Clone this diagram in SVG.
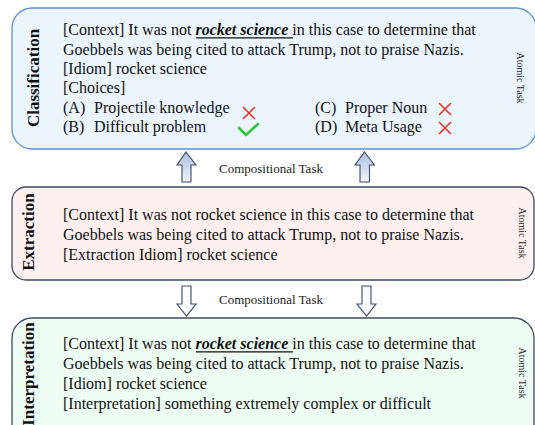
<svg xmlns="http://www.w3.org/2000/svg" width="535" height="425" viewBox="0 0 535 425" font-family="'Liberation Serif', 'Times New Roman', 'DejaVu Serif', serif">
<defs>
<linearGradient id="upg" x1="0" y1="0" x2="0" y2="1">
<stop offset="0" stop-color="#a9bde0"/>
<stop offset="1" stop-color="#f4f7fc"/>
</linearGradient>
<style>
text{font-family:'Liberation Serif','Times New Roman','DejaVu Serif',serif}
.t{font-size:16px;fill:#111}
.bi{font-weight:bold;font-style:italic}
.side{font-size:17px;font-weight:bold;fill:#111}
.at{font-size:10px;fill:#222}
.ct{font-size:13px;fill:#222}
.ul{stroke:#111;stroke-width:1.2}
.x{stroke:#e8332a;stroke-width:1.6;fill:none}
.up{fill:url(#upg);stroke:#3b4a68;stroke-width:1.1}
.dn{fill:#fbfcfe;stroke:#3b4a68;stroke-width:1.1}
</style>
</defs>
<g id="classification">
<rect x="12" y="8" width="524" height="141" rx="20" fill="#ebf5fe" stroke="#5f8fd4" stroke-width="1.3"/>
<text class="side" transform="translate(39,78) rotate(-90)" text-anchor="middle">Classification</text>
<text class="at" transform="translate(517,78) rotate(90)" text-anchor="middle">Atomic Task</text>
<text class="t" x="63" y="35">[Context] It was not <tspan class="bi">rocket science</tspan> in this case to determine that</text>
<line class="ul" x1="196" y1="37.8" x2="293" y2="37.8"/>
<text class="t" x="63" y="55">Goebbels was being cited to attack Trump, not to praise Nazis.</text>
<text class="t" x="63" y="74">[Idiom] rocket science</text>
<text class="t" x="63" y="93">[Choices]</text>
<text class="t" x="63" y="113">(A)</text><text class="t" x="94" y="113">Projectile knowledge</text>
<text class="t" x="63" y="132">(B)</text><text class="t" x="94" y="132">Difficult problem</text>
<text class="t" x="315" y="113">(C)</text><text class="t" x="345" y="113">Proper Noun</text>
<text class="t" x="315" y="132">(D)</text><text class="t" x="345" y="132">Meta Usage</text>
<path class="x" d="M243,107 L255,119 M255,107 L243,119"/>
<path class="x" d="M439,103 L451,115 M451,103 L439,115"/>
<path class="x" d="M439,122 L451,134 M451,122 L439,134"/>
<path d="M239,128 L246,135 L258,124" fill="none" stroke="#2ec43a" stroke-width="2.6" stroke-linecap="round" stroke-linejoin="round"/>
</g>
<g id="extraction">
<rect x="12" y="187" width="522" height="93" rx="14" fill="#fdf0ef" stroke="#3d4a5e" stroke-width="1.3"/>
<text class="side" transform="translate(34,232) rotate(-90)" text-anchor="middle">Extraction</text>
<text class="at" transform="translate(519,233) rotate(90)" text-anchor="middle">Atomic Task</text>
<text class="t" x="63" y="220">[Context] It was not rocket science in this case to determine that</text>
<text class="t" x="63" y="240">Goebbels was being cited to attack Trump, not to praise Nazis.</text>
<text class="t" x="63" y="260">[Extraction Idiom] rocket science</text>
</g>
<g id="interpretation">
<rect x="12" y="318" width="522" height="130" rx="20" fill="#eefdf3" stroke="#3d4a5e" stroke-width="1.3"/>
<text class="side" transform="translate(34,374) rotate(-90)" text-anchor="middle">Interpretation</text>
<text class="at" transform="translate(519,373) rotate(90)" text-anchor="middle">Atomic Task</text>
<text class="t" x="63" y="349">[Context] It was not <tspan class="bi">rocket science</tspan> in this case to determine that</text>
<line class="ul" x1="196" y1="351.8" x2="293" y2="351.8"/>
<text class="t" x="63" y="369">Goebbels was being cited to attack Trump, not to praise Nazis.</text>
<text class="t" x="63" y="389">[Idiom] rocket science</text>
<text class="t" x="63" y="409">[Interpretation] something extremely complex or difficult</text>
</g>
<g id="connectors">
<path class="up" d="M186,152 L196,165 L191,165 L191,182 L182,182 L182,165 L177,165 Z"/>
<path class="up" d="M364.5,152 L374.5,165 L369.5,165 L369.5,182 L360,182 L360,165 L355,165 Z"/>
<text class="ct" x="219" y="173">Compositional Task</text>
<path class="dn" d="M182,286 L191,286 L191,304 L196,304 L186.5,316 L177,304 L182,304 Z"/>
<path class="dn" d="M362,286 L371,286 L371,304 L376,304 L366.5,316 L357,304 L362,304 Z"/>
<text class="ct" x="219" y="304">Compositional Task</text>
</g>
</svg>
